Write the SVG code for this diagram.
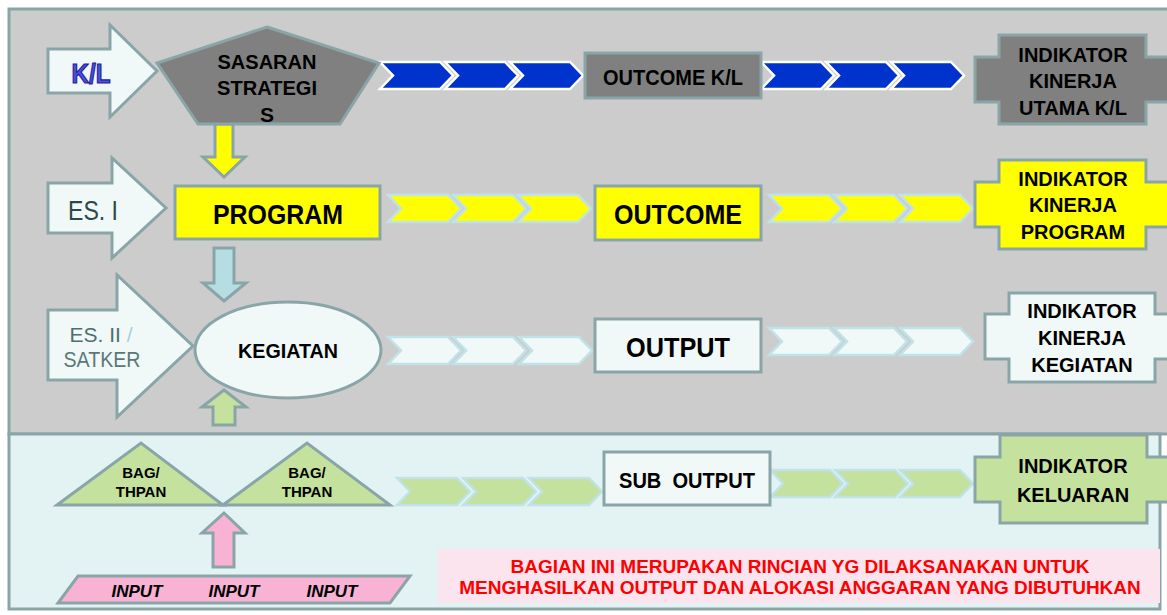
<svg xmlns="http://www.w3.org/2000/svg" width="1167" height="615" viewBox="0 0 1167 615">
<style>
.bd{stroke:#8aa5a8;stroke-width:3}
.t{font-family:"Liberation Sans",Arial,sans-serif;font-weight:bold;text-anchor:middle;fill:#000}
.lbl{font-family:"Liberation Sans",Arial,sans-serif;text-anchor:middle}
.cb{fill:#0033cc;stroke:#ffffff;stroke-width:2.5}
.cy{fill:#ffff00;stroke:#bfe3e8;stroke-width:2.5}
.cw{fill:#f0f8f8;stroke:#bfe3e8;stroke-width:2.5}
.cg{fill:#c4e19d;stroke:#bfe3e8;stroke-width:2.5}
.gray{fill:#808080}
.yel{fill:#ffff00}
.wht{fill:#f0f8f8}
.grn{fill:#c4e19d}
.pnk{fill:#f7b2d4}
</style>
<defs>
<path id="chev" d="M0,0 H60 L73,13.5 L60,27 H0 L13,13.5 Z"/>
</defs>

<!-- panels -->
<rect x="9" y="9" width="1200" height="425" fill="#cccccc" class="bd"/>
<rect x="9" y="434" width="1151" height="175" fill="#e3f3f3" class="bd"/>

<!-- connectors -->
<g id="connectors">
  <g class="cb">
    <use href="#chev" x="380" y="62"/><use href="#chev" x="445" y="62"/><use href="#chev" x="510" y="62"/>
    <use href="#chev" x="761" y="62"/><use href="#chev" x="826" y="62"/><use href="#chev" x="891" y="62"/>
  </g>
  <g class="cy">
    <use href="#chev" x="388" y="195"/><use href="#chev" x="453" y="195"/><use href="#chev" x="518" y="195"/>
    <use href="#chev" x="769" y="195"/><use href="#chev" x="834" y="195"/><use href="#chev" x="900" y="195"/>
  </g>
  <g class="cw">
    <use href="#chev" x="388" y="337"/><use href="#chev" x="453" y="337"/><use href="#chev" x="519" y="337"/>
    <use href="#chev" x="769" y="328"/><use href="#chev" x="834" y="328"/><use href="#chev" x="900" y="328"/>
  </g>
  <g class="cg">
    <use href="#chev" x="397" y="478"/><use href="#chev" x="463" y="478"/><use href="#chev" x="529" y="478"/>
    <use href="#chev" x="770" y="470"/><use href="#chev" x="835" y="470"/><use href="#chev" x="900" y="470"/>
  </g>
  <path class="bd yel" d="M215,124 H233 V157 H245 L224,177 L203,157 H215 Z"/>
  <path class="bd" fill="#b6dde1" d="M214,248 H234 V283 H246 L224,301 L203,283 H214 Z"/>
  <path class="bd grn" d="M224,390 L246,407 H235 V425 H213 V407 H202 Z"/>
  <path class="bd pnk" d="M224,513 L245,533 H234 V567 H213 V533 H202 Z"/>
</g>

<!-- row 1 -->
<g id="kl">
  <path class="bd wht" d="M48,49 H110 V25 L157,71 L110,117 V93 H48 Z"/>
  <text class="t" x="91" y="83" font-size="27" textLength="39" lengthAdjust="spacingAndGlyphs" stroke="#1c1ca0" stroke-width="1.2" style="fill:#5050d8">K/L</text>
</g>
<g id="sasaran">
  <polygon class="bd gray" points="267,27 379,63 340,124 198,124 157,63"/>
  <text class="t" x="267" y="69" font-size="21" textLength="99" lengthAdjust="spacingAndGlyphs">SASARAN</text>
  <text class="t" x="267" y="95" font-size="21" textLength="100" lengthAdjust="spacingAndGlyphs">STRATEGI</text>
  <text class="t" x="267" y="122" font-size="21">S</text>
</g>
<g id="outcome-kl">
  <rect x="585" y="53" width="176" height="45" class="bd gray"/>
  <text class="t" x="673" y="85" font-size="22" textLength="140" lengthAdjust="spacingAndGlyphs">OUTCOME K/L</text>
</g>
<g id="iku">
  <path class="bd gray" d="M999,35 H1146 V57 H1172 V102 H1146 V124 H999 V102 H975 V57 H999 Z"/>
  <text class="t" x="1073" y="62" font-size="20">INDIKATOR</text>
  <text class="t" x="1073" y="88" font-size="20">KINERJA</text>
  <text class="t" x="1073" y="115" font-size="20">UTAMA K/L</text>
</g>

<!-- row 2 -->
<g id="es1">
  <path class="bd wht" d="M48,183 H112 V158 L166,208 L112,258 V233 H48 Z"/>
  <text class="lbl" x="93" y="220" font-size="27" textLength="50" lengthAdjust="spacingAndGlyphs" fill="#2e4848">ES. I</text>
</g>
<g id="program">
  <rect x="175" y="186" width="205" height="53" class="bd yel"/>
  <text class="t" x="278" y="224" font-size="28" textLength="130" lengthAdjust="spacingAndGlyphs">PROGRAM</text>
</g>
<g id="outcome">
  <rect x="595" y="186" width="166" height="54" class="bd yel"/>
  <text class="t" x="678" y="224" font-size="28" textLength="128" lengthAdjust="spacingAndGlyphs">OUTCOME</text>
</g>
<g id="ikp">
  <path class="bd yel" d="M999,160 H1146 V182 H1172 V227 H1146 V249 H999 V227 H975 V182 H999 Z"/>
  <text class="t" x="1073" y="186" font-size="20">INDIKATOR</text>
  <text class="t" x="1073" y="212" font-size="20">KINERJA</text>
  <text class="t" x="1073" y="239" font-size="20">PROGRAM</text>
</g>

<!-- row 3 -->
<g id="es2">
  <path class="bd wht" d="M48,310 H117 V275 L193,346 L117,417 V380 H48 Z"/>
  <text class="lbl" x="101" y="342" font-size="21" fill="#4f6e6e">ES. II <tspan fill="#a6d2da">/</tspan></text>
  <text class="lbl" x="102" y="367" font-size="22" textLength="77" lengthAdjust="spacingAndGlyphs" fill="#5a7878">SATKER</text>
</g>
<g id="kegiatan">
  <ellipse cx="288" cy="350" rx="93" ry="48" class="bd wht"/>
  <text class="t" x="288" y="358" font-size="21" textLength="100" lengthAdjust="spacingAndGlyphs">KEGIATAN</text>
</g>
<g id="output">
  <rect x="595" y="319" width="166" height="53" class="bd wht"/>
  <text class="t" x="678" y="357" font-size="28" textLength="104" lengthAdjust="spacingAndGlyphs">OUTPUT</text>
</g>
<g id="ikk">
  <path class="bd wht" d="M1009,293 H1155 V314 H1172 V359 H1155 V382 H1009 V359 H985 V314 H1009 Z"/>
  <text class="t" x="1082" y="318" font-size="20">INDIKATOR</text>
  <text class="t" x="1082" y="345" font-size="20">KINERJA</text>
  <text class="t" x="1082" y="372" font-size="20">KEGIATAN</text>
</g>

<!-- row 4 -->
<g id="bag1">
  <polygon class="bd grn" points="57,505 141,443 223,505"/>
  <text class="t" x="141" y="478" font-size="15">BAG/</text>
  <text class="t" x="141" y="497" font-size="15">THPAN</text>
</g>
<g id="bag2">
  <polygon class="bd grn" points="223,505 307,443 390,505"/>
  <text class="t" x="307" y="478" font-size="15">BAG/</text>
  <text class="t" x="307" y="497" font-size="15">THPAN</text>
</g>
<g id="input">
  <polygon class="bd pnk" points="78,576 410,576 390,603 58,603"/>
  <text class="t" x="137" y="597" font-size="17" font-style="italic">INPUT</text>
  <text class="t" x="234" y="597" font-size="17" font-style="italic">INPUT</text>
  <text class="t" x="332" y="597" font-size="17" font-style="italic">INPUT</text>
</g>
<g id="sub-output">
  <rect x="604" y="452" width="166" height="53" class="bd wht"/>
  <text class="t" x="687" y="488" font-size="22" textLength="136" lengthAdjust="spacingAndGlyphs" xml:space="preserve">SUB  OUTPUT</text>
</g>
<g id="ik-keluaran">
  <path class="bd grn" d="M1000,435 H1147 V457 H1172 V502 H1147 V523 H1000 V502 H975 V457 H1000 Z"/>
  <text class="t" x="1073" y="473" font-size="20">INDIKATOR</text>
  <text class="t" x="1073" y="502" font-size="20">KELUARAN</text>
</g>
<g id="note">
  <rect x="438" y="549" width="722" height="54" fill="#fce4ee"/>
  <text class="t" x="800" y="573" font-size="19" style="fill:#ff0000">BAGIAN INI MERUPAKAN RINCIAN YG DILAKSANAKAN UNTUK</text>
  <text class="t" x="800" y="594" font-size="19" style="fill:#ff0000">MENGHASILKAN OUTPUT DAN ALOKASI ANGGARAN YANG DIBUTUHKAN</text>
</g>
</svg>
